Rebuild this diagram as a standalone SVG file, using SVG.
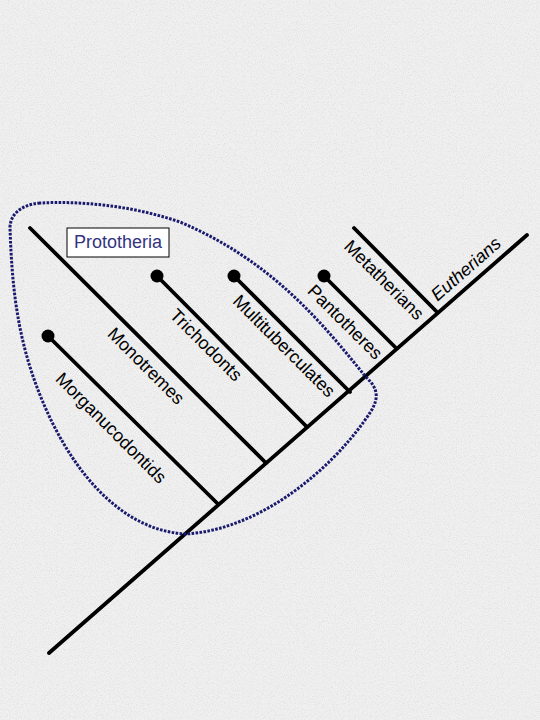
<svg xmlns="http://www.w3.org/2000/svg" width="540" height="720" viewBox="0 0 540 720">
<defs>
<filter id="grain" x="0" y="0" width="100%" height="100%">
<feTurbulence type="fractalNoise" baseFrequency="0.85" numOctaves="2" seed="7" result="n"/>
<feColorMatrix in="n" type="matrix" values="0 0 0 0 0.7  0 0 0 0 0.7  0 0 0 0 0.7  1.8 0 0 0 -0.8"/>
</filter>
<style>
.br{stroke:#000;stroke-width:3.8;stroke-linecap:round;fill:none}
.dot{fill:#000}
.lbl{font-family:"Liberation Sans",Arial,sans-serif;font-size:18px;fill:#000;text-anchor:middle}
.clade{fill:none;stroke:#1a1a6e;stroke-width:3;stroke-dasharray:2.6 1.4}
</style>
</defs>
<rect width="540" height="720" fill="#f0f0f0"/>
<rect width="540" height="720" filter="url(#grain)"/>

<g id="connectors">
<line class="br" x1="49" y1="653" x2="527" y2="235"/>
<line class="br" x1="48" y1="336" x2="218" y2="504"/>
<line class="br" x1="30" y1="228" x2="266" y2="463"/>
<line class="br" x1="157" y1="276" x2="307" y2="427"/>
<line class="br" x1="234" y1="276" x2="350" y2="392"/>
<line class="br" x1="324" y1="276" x2="396" y2="348"/>
<line class="br" x1="354" y1="228" x2="437" y2="312"/>
</g>

<g id="prototheria-clade">
<path class="clade" d="M40 203 C20 205 10 215 10 228 C12 290 18 340 40 395 C70 470 120 530 185 534 C260 530 330 470 365 420 C380 400 380 390 365 376 C320 320 270 260 180 222 C130 205 80 201 40 203 Z"/>
<rect x="67" y="228" width="102" height="29" fill="#ffffff" stroke="#000" stroke-width="1"/>
<text x="118" y="248" font-family="Liberation Sans, Arial, sans-serif" font-size="18" fill="#333380" text-anchor="middle">Prototheria</text>
</g>

<g id="morganucodontids">
<circle class="dot" cx="48" cy="336" r="6.5"/>
<text class="lbl" transform="translate(111,428) rotate(45)" y="6">Morganucodontids</text>
</g>
<g id="monotremes">
<text class="lbl" transform="translate(146,366) rotate(45)" y="6">Monotremes</text>
</g>
<g id="trichodonts">
<circle class="dot" cx="157" cy="276" r="6.5"/>
<text class="lbl" transform="translate(206,345) rotate(45)" y="6">Trichodonts</text>
</g>
<g id="multituberculates">
<circle class="dot" cx="234" cy="276" r="6.5"/>
<text class="lbl" transform="translate(284,346) rotate(45)" y="6">Multituberculates</text>
</g>
<g id="pantotheres">
<circle class="dot" cx="324" cy="276" r="6.5"/>
<text class="lbl" transform="translate(345,322) rotate(45)" y="6">Pantotheres</text>
</g>
<g id="metatherians">
<text class="lbl" transform="translate(384,280) rotate(45)" y="6">Metatherians</text>
</g>
<g id="eutherians">
<text class="lbl" transform="translate(466,269) rotate(-41.2)" y="6" font-style="italic">Eutherians</text>
</g>
</svg>
